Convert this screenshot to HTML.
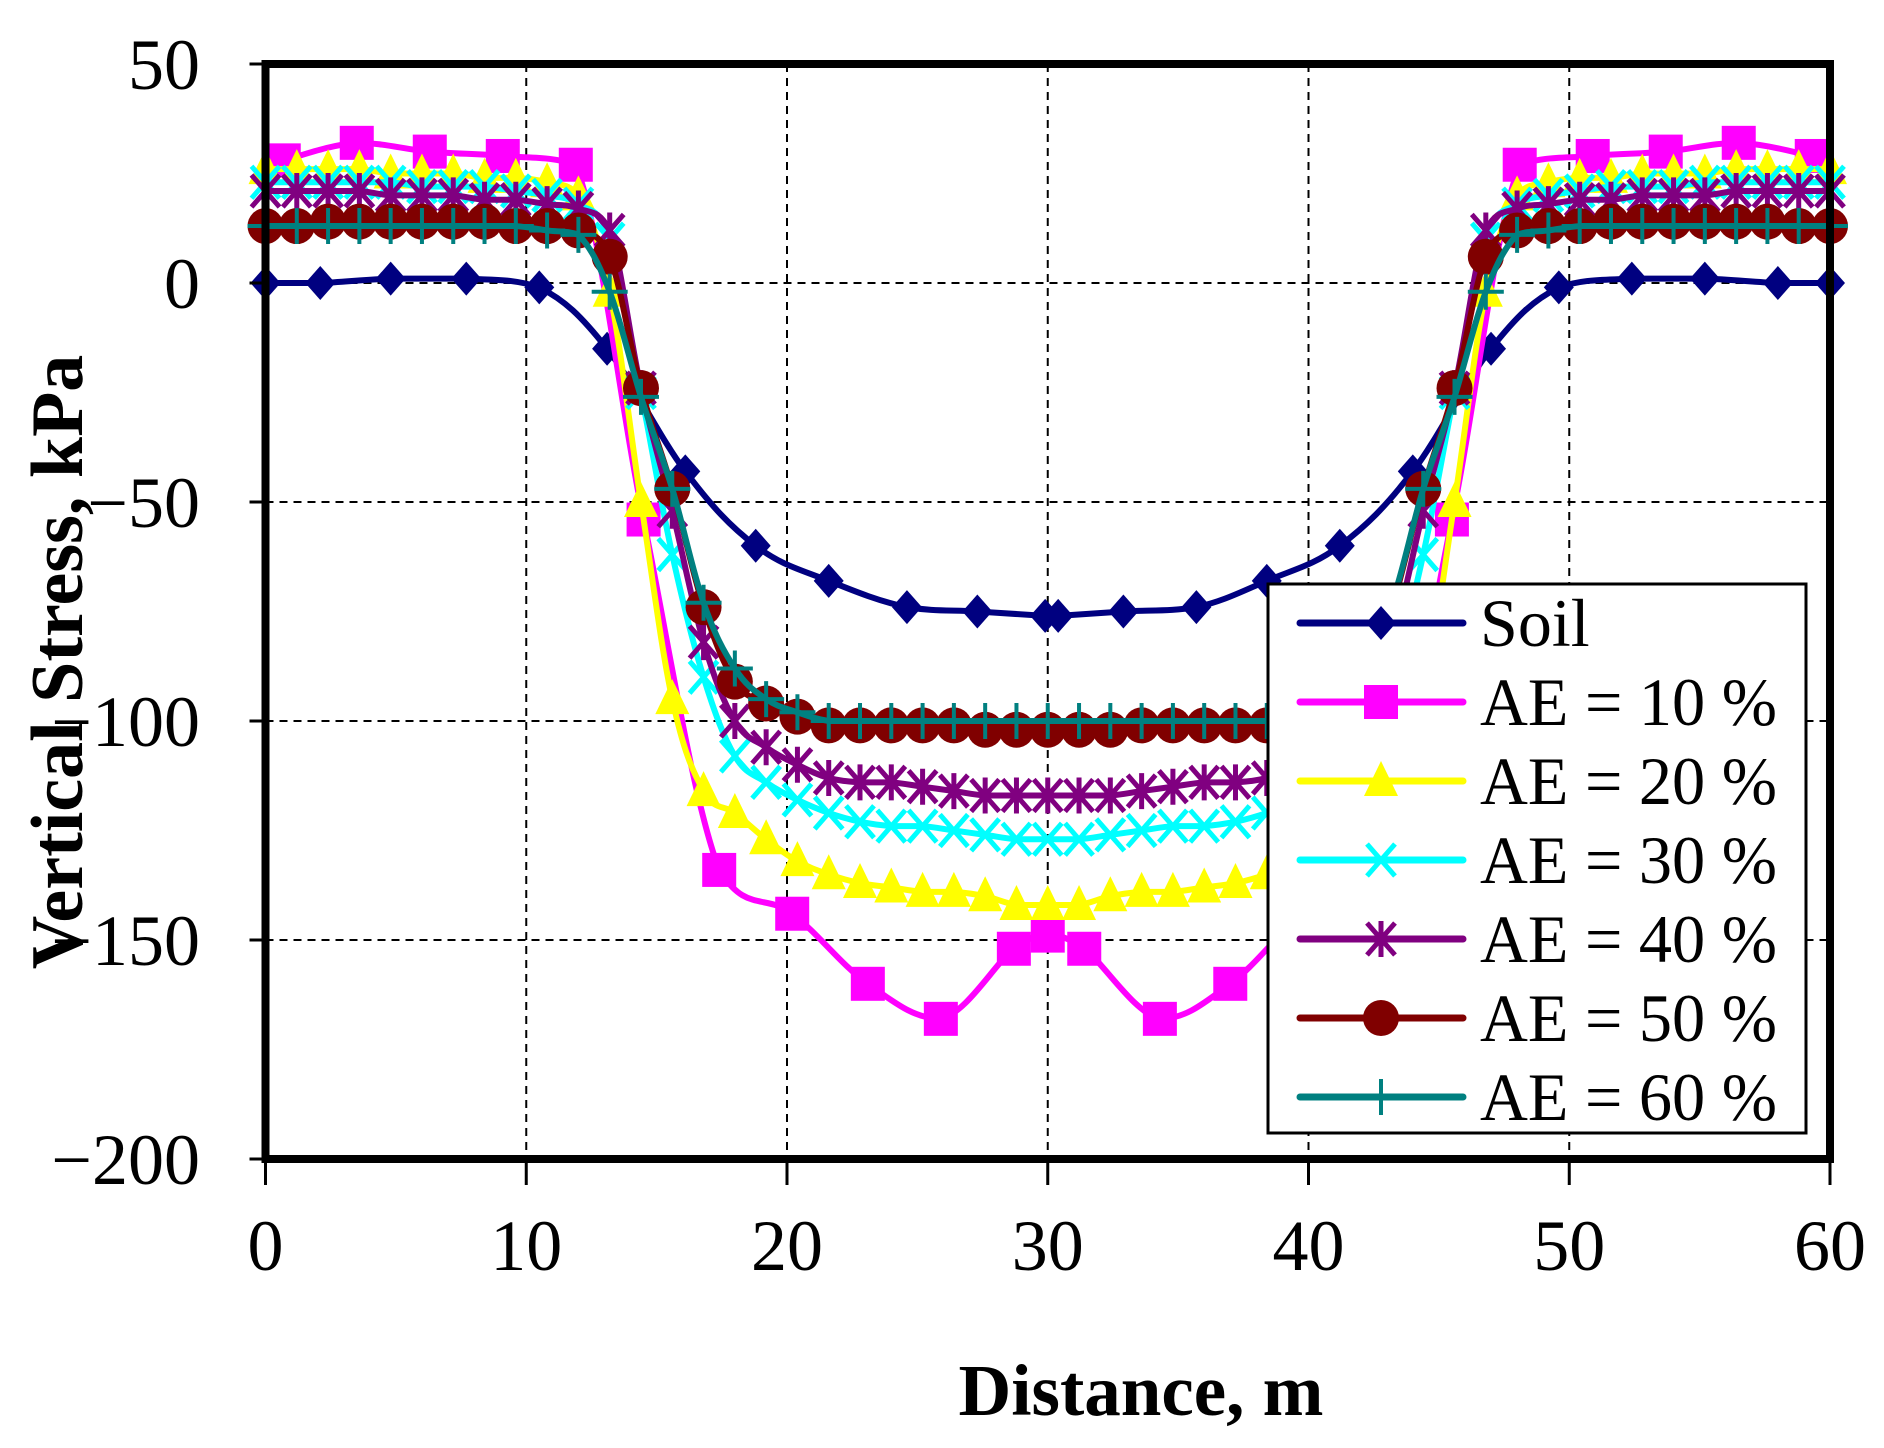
<!DOCTYPE html>
<html><head><meta charset="utf-8">
<style>
html,body{margin:0;padding:0;background:#fff;}
svg{display:block;}
text{font-family:"Liberation Serif",serif;fill:#000;}
</style></head>
<body>
<svg id="chart" width="1884" height="1448" viewBox="0 0 1884 1448" xmlns="http://www.w3.org/2000/svg">
<rect x="0" y="0" width="1884" height="1448" fill="#fff"/>
<g id="grid"></g>
<g id="series"></g>
<g id="frame"></g>
<g id="ticks"></g>
<g id="legend"></g>
<text x="1141" y="1415" font-size="73" font-weight="bold" text-anchor="middle">Distance, m</text>
<text transform="translate(82,662) rotate(-90)" font-size="74" font-weight="bold" text-anchor="middle">Vertical Stress, kPa</text>
</svg>
<script>
const xTicks=[0,10,20,30,40,50,60];
const yTicks=[50,0,-50,-100,-150,-200];
const yTickLabels=["50","0","\u221250","\u2212100","\u2212150","\u2212200"];
const xTickLabels=["0","10","20","30","40","50","60"];

const soilX=[0,2.1,4.8,7.7,10.5,13.1,16.1,18.8,21.6,24.6,27.3,29.9,30.4,32.9,35.7,38.4,41.2,44,47,49.6,52.4,55.2,58,60];
const soilY=[0,0,1,1,-1,-15,-43,-60,-68,-74,-75,-76,-76,-75,-74,-68,-60,-43,-15,-1,1,1,0,0];

const ae10X=[0.7,3.5,6.3,9.1,11.9,14.5,17.4,20.2,23.1,25.9,28.7,30,31.4,34.3,37,39.8,42.6,45.5,48.1,50.9,53.7,56.5,59.3];
const ae10Y=[28,32,30,29,27,-54,-134,-144,-160,-168,-152,-149,-152,-168,-160,-144,-134,-54,27,29,30,32,29];

const aeX=[0,1.2,2.4,3.6,4.8,6,7.2,8.4,9.6,10.8,12,13.2,14.4,15.6,16.8,18,19.2,20.4,21.6,22.8,24,25.2,26.4,27.6,28.8,30,31.2,32.4,33.6,34.8,36,37.2,38.4,39.6,40.8,42,43.2,44.4,45.6,46.8,48,49.2,50.4,51.6,52.8,54,55.2,56.4,57.6,58.8,60];
const ae20Y=[26,26,26,26,25,25,25,24,24,23,20,-2,-50,-95,-116,-121,-127,-132,-135,-137,-138,-139,-139,-140,-142,-142,-142,-140,-139,-139,-138,-137,-135,-132,-127,-121,-116,-95,-50,-2,20,23,24,24,25,25,25,26,26,26,26];
const ae30Y=[23,23,23,23,23,22,22,22,21,20,18,10,-25,-62,-90,-108,-114,-118,-121,-123,-124,-124,-125,-126,-127,-127,-127,-126,-125,-124,-124,-123,-121,-118,-114,-108,-90,-62,-25,10,18,20,21,22,22,22,23,23,23,23,23];
const ae40Y=[21,21,21,21,20,20,20,19,19,18,17,12,-24,-52,-82,-100,-106,-110,-113,-114,-114,-115,-116,-117,-117,-117,-117,-117,-116,-115,-114,-114,-113,-110,-106,-100,-82,-52,-24,12,17,18,19,19,20,20,20,21,21,21,21];
const ae50Y=[13,13,14,14,14,14,14,14,13,13,12,6,-24,-47,-74,-91,-96,-99,-101,-101,-101,-101,-101,-102,-102,-102,-102,-102,-101,-101,-101,-101,-101,-99,-96,-91,-74,-47,-24,6,12,13,13,14,14,14,14,14,14,13,13];
const ae60Y=[13,13,13,13,13,13,13,13,13,12,11,-2,-26,-47,-73,-88,-95,-98,-100,-100,-100,-100,-100,-100,-100,-100,-100,-100,-100,-100,-100,-100,-100,-98,-95,-88,-73,-47,-26,-2,11,12,13,13,13,13,13,13,13,13,13];

const legendLabels=["Soil","AE = 10 %","AE = 20 %","AE = 30 %","AE = 40 %","AE = 50 %","AE = 60 %"];

const NS="http://www.w3.org/2000/svg";
const L=265.5,R=1830,T=64,B=1159;
const xMin=0,xMax=60,yMin=-200,yMax=50;
function sx(v){return L+(v-xMin)/(xMax-xMin)*(R-L);}
function sy(v){return B-(v-yMin)/(yMax-yMin)*(B-T);}
function mk(tag,attrs,parent){const e=document.createElementNS(NS,tag);for(const k in attrs)e.setAttribute(k,attrs[k]);parent.appendChild(e);return e;}

const grid=document.getElementById('grid');
xTicks.forEach(v=>{ if(v>xMin&&v<xMax){
  const l=mk('line',{x1:sx(v),x2:sx(v),y1:T,y2:B,stroke:'#000','stroke-width':2,'stroke-dasharray':'8,6'},grid);
  
  
}});
yTicks.forEach(v=>{ if(v>yMin&&v<yMax){
  const l=mk('line',{x1:L,x2:R,y1:sy(v),y2:sy(v),stroke:'#000','stroke-width':2,'stroke-dasharray':'8,6'},grid);
  
  
}});

function clamp(v,a,b){const lo=Math.min(a,b),hi=Math.max(a,b);return Math.max(lo,Math.min(hi,v));}
function smoothPath(xs,ys){
  const p=xs.map((x,i)=>[sx(x),sy(ys[i])]);
  let d='M'+p[0][0]+','+p[0][1];
  for(let i=0;i<p.length-1;i++){
    const p0=p[i-1]||p[i],p1=p[i],p2=p[i+1],p3=p[i+2]||p2;
    const t=0.18;
    const c1=[p1[0]+(p2[0]-p0[0])*t,clamp(p1[1]+(p2[1]-p0[1])*t,p1[1],p2[1])];
    const c2=[p2[0]-(p3[0]-p1[0])*t,clamp(p2[1]-(p3[1]-p1[1])*t,p1[1],p2[1])];
    d+=' C'+c1[0]+','+c1[1]+' '+c2[0]+','+c2[1]+' '+p2[0]+','+p2[1];
  }
  return d;
}
function marker(type,cx,cy,color,parent){
  let e;
  if(type==='diamond'){e=mk('polygon',{points:`${cx},${cy-17} ${cx+15},${cy} ${cx},${cy+17} ${cx-15},${cy}`,fill:color},parent);}
  else if(type==='square'){e=mk('rect',{x:cx-17,y:cy-17,width:34,height:34,fill:color},parent);}
  else if(type==='triangle'){e=mk('polygon',{points:`${cx},${cy-20} ${cx+17},${cy+15} ${cx-17},${cy+15}`,fill:color},parent);}
  else if(type==='x'){e=mk('path',{d:`M${cx-14},${cy-16}L${cx+14},${cy+16}M${cx+14},${cy-16}L${cx-14},${cy+16}`,stroke:color,'stroke-width':5,fill:'none'},parent);}
  else if(type==='star'){e=mk('path',{d:`M${cx-14},${cy-16}L${cx+14},${cy+16}M${cx+14},${cy-16}L${cx-14},${cy+16}M${cx},${cy-18}L${cx},${cy+18}`,stroke:color,'stroke-width':5,fill:'none'},parent);}
  else if(type==='circle'){e=mk('circle',{cx:cx,cy:cy,r:18,fill:color},parent);}
  else if(type==='plus'){e=mk('path',{d:`M${cx-18},${cy}L${cx+18},${cy}M${cx},${cy-18}L${cx},${cy+18}`,stroke:color,'stroke-width':4,fill:'none'},parent);}
  
  
  return e;
}
const seriesDefs=[
  {name:'soil',x:soilX,y:soilY,color:'#000080',m:'diamond'},
  {name:'ae-10',x:ae10X,y:ae10Y,color:'#ff00ff',m:'square'},
  {name:'ae-20',x:aeX,y:ae20Y,color:'#ffff00',m:'triangle'},
  {name:'ae-30',x:aeX,y:ae30Y,color:'#00ffff',m:'x'},
  {name:'ae-40',x:aeX,y:ae40Y,color:'#800080',m:'star'},
  {name:'ae-50',x:aeX,y:ae50Y,color:'#800000',m:'circle'},
  {name:'ae-60',x:aeX,y:ae60Y,color:'#008080',m:'plus'}
];
const sg=document.getElementById('series');
seriesDefs.forEach(s=>{
  const g=mk('g',{},sg);
  
  
  const p=mk('path',{d:smoothPath(s.x,s.y),fill:'none',stroke:s.color,'stroke-width':6,'stroke-linejoin':'round'},g);
  
  
  s.x.forEach((x,i)=>marker(s.m,sx(x),sy(s.y[i]),s.color,g));
});

const fr=document.getElementById('frame');
const fb=mk('rect',{x:L,y:T,width:R-L,height:B-T,fill:'none',stroke:'#000','stroke-width':8},fr);



const tk=document.getElementById('ticks');
xTicks.forEach((v,i)=>{
  const l=mk('line',{x1:sx(v),x2:sx(v),y1:B,y2:B+26,stroke:'#000','stroke-width':3},tk);
  
  
  const t=mk('text',{x:sx(v),y:1270,'font-size':72,'text-anchor':'middle'},tk);
  t.textContent=xTickLabels[i];
  
  
});
yTicks.forEach((v,i)=>{
  const l=mk('line',{x1:L-16,x2:L,y1:sy(v),y2:sy(v),stroke:'#000','stroke-width':3},tk);
  
  
  const t=mk('text',{x:200,y:sy(v)+25,'font-size':72,'text-anchor':'end'},tk);
  t.textContent=yTickLabels[i];
  
  
});

const lg=document.getElementById('legend');
const lb=mk('rect',{x:1268,y:584,width:538,height:549,fill:'#fff',stroke:'#000','stroke-width':3},lg);


seriesDefs.forEach((s,i)=>{
  const cy=623+i*79;
  const g=mk('g',{},lg);
  
  
  const l=mk('line',{x1:1300,x2:1463,y1:cy,y2:cy,stroke:s.color,'stroke-width':7,'stroke-linecap':'round'},g);
  
  
  marker(s.m,1381,cy,s.color,g);
  const t=mk('text',{x:1480,y:cy+23,'font-size':68},g);
  t.textContent=legendLabels[i];
  if(i>0){t.setAttribute('textLength','297');t.setAttribute('lengthAdjust','spacingAndGlyphs');}
  
  
});
</script>
</body></html>
